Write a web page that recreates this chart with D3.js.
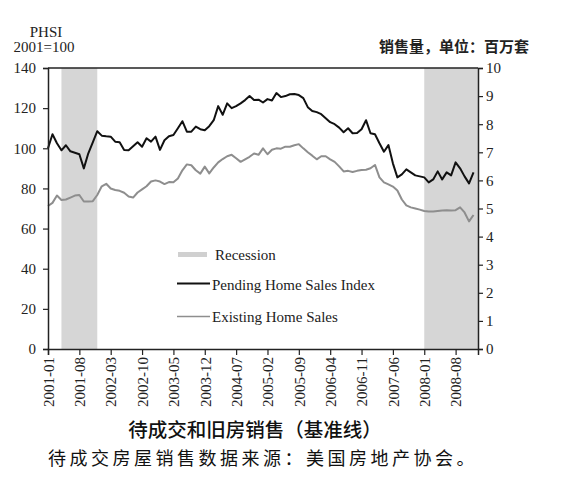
<!DOCTYPE html>
<html>
<head>
<meta charset="utf-8">
<script src="https://cdn.jsdelivr.net/npm/d3@7"></script>
<style>
html,body{margin:0;padding:0;background:#fff;}
svg{display:block;}
</style>
</head>
<body>
<svg id="chart" width="580" height="486"></svg>
<script>
// ---- data ----
const startMonth = "2001-01";
const endMonth = "2009-01";
const xTickLabels = ["2001-01","2001-08","2002-03","2002-10","2003-05","2003-12","2004-07","2005-02","2005-09","2006-04","2006-11","2007-06","2008-01","2008-08"];
const leftTicks = [0,20,40,60,80,100,120,140];
const rightTicks = [0,1,2,3,4,5,6,7,8,9,10];
const recessionStart = ["2001-04","2008-01"];
const recessionEnd = ["2001-12","2009-01"];
// Pending Home Sales Index (2001=100), monthly from 2001-01
const phsi = [100,107,102.5,99,101.5,98.5,97.8,97,90,97.5,103,108.5,
  106.3,106,105.8,103.3,103,99.2,99,101,103,100.8,105,103.3,
  105.8,99.2,104,106,106.6,110,113.5,108.3,108.3,110.8,109.5,109,
  111,114,121,116.7,122.4,120,121,122.4,124,126,124,124.2,
  122.8,124.5,123.8,127.5,125.5,126,126.9,127,126.5,125,120.5,118.6,
  118,117,115,113,112,110.3,108,110,107.5,107.6,109.5,114,
  107.5,107,102.5,98.3,101.6,92.5,85.5,87,89.5,88,86.5,86,
  85.5,83,84.5,88.5,84.5,88,86.5,93,90,86,82.5,88];
// Existing home sales (millions), monthly from 2001-01
const existing = [5.09,5.20,5.46,5.30,5.32,5.39,5.46,5.48,5.25,5.25,5.26,5.48,
  5.79,5.88,5.71,5.66,5.63,5.56,5.43,5.39,5.57,5.68,5.79,5.96,
  6.00,5.96,5.87,5.94,5.93,6.07,6.36,6.57,6.54,6.36,6.24,6.49,
  6.25,6.46,6.64,6.76,6.86,6.91,6.79,6.66,6.75,6.84,6.96,6.91,
  7.14,6.93,7.09,7.14,7.13,7.20,7.20,7.25,7.29,7.14,7.00,6.88,
  6.75,6.86,6.86,6.75,6.66,6.50,6.32,6.34,6.30,6.34,6.37,6.38,
  6.43,6.55,6.11,5.93,5.86,5.78,5.64,5.32,5.11,5.04,5.00,4.96,
  4.91,4.89,4.89,4.91,4.93,4.94,4.93,4.94,5.04,4.86,4.54,4.77];
const legendLabels = ["Recession","Pending Home Sales Index","Existing Home Sales"];
const leftTitle = ["PHSI","2001=100"];
const rightTitle = "销售量，单位：百万套";
const chartTitle = "待成交和旧房销售（基准线）";
const sourceNote = "待成交房屋销售数据来源：美国房地产协会。";

// ---- helpers ----
function monthIndex(s){
  const [y,m] = s.split("-").map(Number);
  const [y0,m0] = startMonth.split("-").map(Number);
  return (y-y0)*12 + (m-m0);
}

const svg = d3.select("#chart");
const m = {left:48, right:102, top:68, bottom:137};
const W = 580, H = 486;
const x = d3.scaleLinear().domain([0, monthIndex(endMonth)]).range([m.left, W-m.right]);
const yL = d3.scaleLinear().domain([0,140]).range([H-m.bottom, m.top]);
const yR = d3.scaleLinear().domain([0,10]).range([H-m.bottom, m.top]);

const serif = "'Liberation Serif','Times New Roman',serif";
const cjk = "'Noto Sans CJK SC','Noto Sans CJK JP',sans-serif";

// recessions
svg.append("g").selectAll("rect").data(recessionStart.map((s,i)=>[s,recessionEnd[i]]))
  .enter().append("rect")
  .attr("x", d=>x(monthIndex(d[0])))
  .attr("width", d=>x(monthIndex(d[1]))-x(monthIndex(d[0])))
  .attr("y", m.top).attr("height", yL(0)-yL(140))
  .attr("fill","#d6d6d6");

// lines
const lineL = d3.line().x((d,i)=>x(i)).y(d=>yL(d));
const lineR = d3.line().x((d,i)=>x(i)).y(d=>yR(d));
svg.append("path").datum(existing).attr("d", lineR)
  .attr("fill","none").attr("stroke","#8e8e8e").attr("stroke-width",2).attr("stroke-linejoin","round");
svg.append("path").datum(phsi).attr("d", lineL)
  .attr("fill","none").attr("stroke","#111").attr("stroke-width",2).attr("stroke-linejoin","round");

// frame top line
svg.append("line").attr("x1",m.left).attr("x2",W-m.right).attr("y1",m.top).attr("y2",m.top)
  .attr("stroke","#222").attr("stroke-width",1.5);

// axes
const axL = svg.append("g").attr("transform",`translate(${m.left},0)`)
  .call(d3.axisLeft(yL).tickValues(leftTicks).tickSize(5).tickPadding(7));
const axR = svg.append("g").attr("transform",`translate(${W-m.right},0)`)
  .call(d3.axisRight(yR).tickValues(rightTicks).tickSize(5).tickPadding(3));
const axB = svg.append("g").attr("transform",`translate(0,${H-m.bottom})`)
  .call(d3.axisBottom(x).tickValues(xTickLabels.map(monthIndex)).tickSize(6)
    .tickFormat((d,i)=>xTickLabels[i]));
[axL,axR,axB].forEach(a=>{
  a.select(".domain").attr("stroke","#222").attr("stroke-width",1.5);
  a.selectAll(".tick line").attr("stroke","#222").attr("stroke-width",1.2);
  a.selectAll("text").attr("font-family",serif).attr("font-size",15).attr("fill","#222");
});
axB.selectAll("text")
  .attr("transform","rotate(-90)")
  .attr("text-anchor","end")
  .attr("x",-8).attr("y",0).attr("dy","0.35em");

// axis titles
svg.append("text").attr("x",46).attr("y",37).attr("text-anchor","middle")
  .attr("font-family",serif).attr("font-size",15).attr("fill","#222").text(leftTitle[0]);
svg.append("text").attr("x",44).attr("y",52).attr("text-anchor","middle")
  .attr("font-family",serif).attr("font-size",15).attr("fill","#222").text(leftTitle[1]);
svg.append("text").attr("x",529).attr("y",52).attr("text-anchor","end")
  .attr("font-family",cjk).attr("font-size",15).attr("font-weight",600).attr("fill","#222").text(rightTitle);

// legend
const lg = svg.append("g");
lg.append("rect").attr("x",178).attr("y",252).attr("width",29).attr("height",5).attr("fill","#d0d0d0");
lg.append("line").attr("x1",177).attr("x2",210).attr("y1",283.5).attr("y2",283.5).attr("stroke","#111").attr("stroke-width",2);
lg.append("line").attr("x1",177).attr("x2",210).attr("y1",316.5).attr("y2",316.5).attr("stroke","#8e8e8e").attr("stroke-width",1.5);
[[215,259.5],[212,289.5],[212,321.5]].forEach((p,i)=>{
  lg.append("text").attr("x",p[0]).attr("y",p[1]).attr("font-family",serif).attr("font-size",15)
    .attr("fill","#222").text(legendLabels[i]);
});

// titles
svg.append("text").attr("x",255).attr("y",437).attr("text-anchor","middle")
  .attr("font-family",cjk).attr("font-size",19.5).attr("font-weight",500).attr("fill","#111").text(chartTitle);
svg.append("text").attr("x",48).attr("y",465)
  .attr("font-family",cjk).attr("font-size",18).attr("letter-spacing",3.5).attr("fill","#111").text(sourceNote);
</script>
</body>
</html>
